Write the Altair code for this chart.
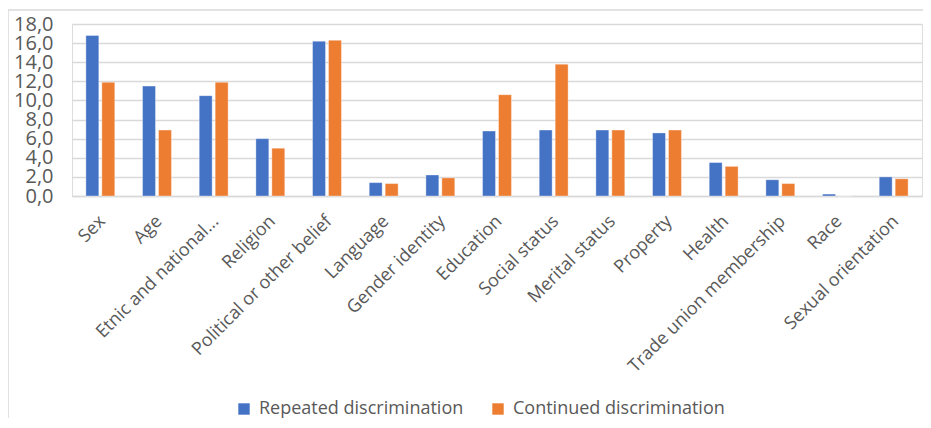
import altair as alt
import pandas as pd

categories = ["Sex", "Age", "Etnic and national...", "Religion", "Political or other belief",
              "Language", "Gender identity", "Education", "Social status", "Merital status",
              "Property", "Health", "Trade union membership", "Race", "Sexual orientation"]
repeated = [16.8, 11.5, 10.5, 6.0, 16.2, 1.4, 2.2, 6.8, 6.9, 6.9, 6.6, 3.5, 1.7, 0.2, 2.0]
continued = [11.9, 6.9, 11.9, 5.0, 16.3, 1.3, 1.9, 10.6, 13.8, 6.9, 6.9, 3.1, 1.3, 0.0, 1.8]
series = ["Repeated discrimination", "Continued discrimination"]
colors = ["#4472C4", "#ED7D31"]

rows = []
for c, r, k in zip(categories, repeated, continued):
    rows.append({"cat": c, "series": series[0], "value": r})
    rows.append({"cat": c, "series": series[1], "value": k})
df = pd.DataFrame(rows)

FONT = "Open Sans"
GREY = "#595959"

bars = alt.Chart(df).mark_bar(stroke="white", strokeWidth=0.6, strokeOpacity=0.6).encode(
    x=alt.X("cat:N", sort=categories, title=None,
            scale=alt.Scale(paddingInner=0.49, paddingOuter=0.245),
            axis=alt.Axis(labelAngle=-45, labelFontSize=18, labelColor=GREY, labelFont=FONT,
                          ticks=False, domainColor="#d9d9d9", domainWidth=1.5,
                          labelPadding=16, labelOffset=-4, labelLimit=400, labelOverlap=False)),
    xOffset=alt.XOffset("series:N", sort=series, scale=alt.Scale(paddingInner=0.19)),
    y=alt.Y("value:Q", title=None,
            scale=alt.Scale(domain=[0, 18], nice=False),
            axis=alt.Axis(values=list(range(0, 19, 2)),
                          labelExpr="replace(format(datum.value, '.1f'), '.', ',')",
                          labelFontSize=20, labelColor=GREY, labelFont=FONT,
                          ticks=False, domain=False, gridColor="#d9d9d9", gridWidth=1.5,
                          labelPadding=19, labelOverlap=False)),
    color=alt.Color("series:N", sort=series,
                    scale=alt.Scale(domain=series, range=colors),
                    legend=alt.Legend(title=None, orient="none", direction="horizontal",
                                      legendX=163, legendY=376,
                                      symbolType="square", symbolSize=130,
                                      symbolStrokeWidth=0, labelFontSize=18,
                                      labelFont=FONT, labelColor=GREY, labelLimit=400,
                                      columnPadding=25, labelOffset=6)),
)

border = alt.Chart(pd.DataFrame({"a": [0]})).mark_rect(
    fill=None, stroke="#d9d9d9", strokeWidth=1.5
).encode(
    x=alt.value(-64), x2=alt.value(1000), y=alt.value(-14), y2=alt.value(600)
)

chart = alt.layer(border, bars).properties(
    width=850, height=172,
    padding={"left": 64, "top": 16, "right": 1, "bottom": 222},
    autosize=alt.AutoSizeParams(type="none"),
).configure_view(stroke=None).configure(font=FONT)

chart.save("out.html", embed_options={"renderer": "svg", "actions": False})
